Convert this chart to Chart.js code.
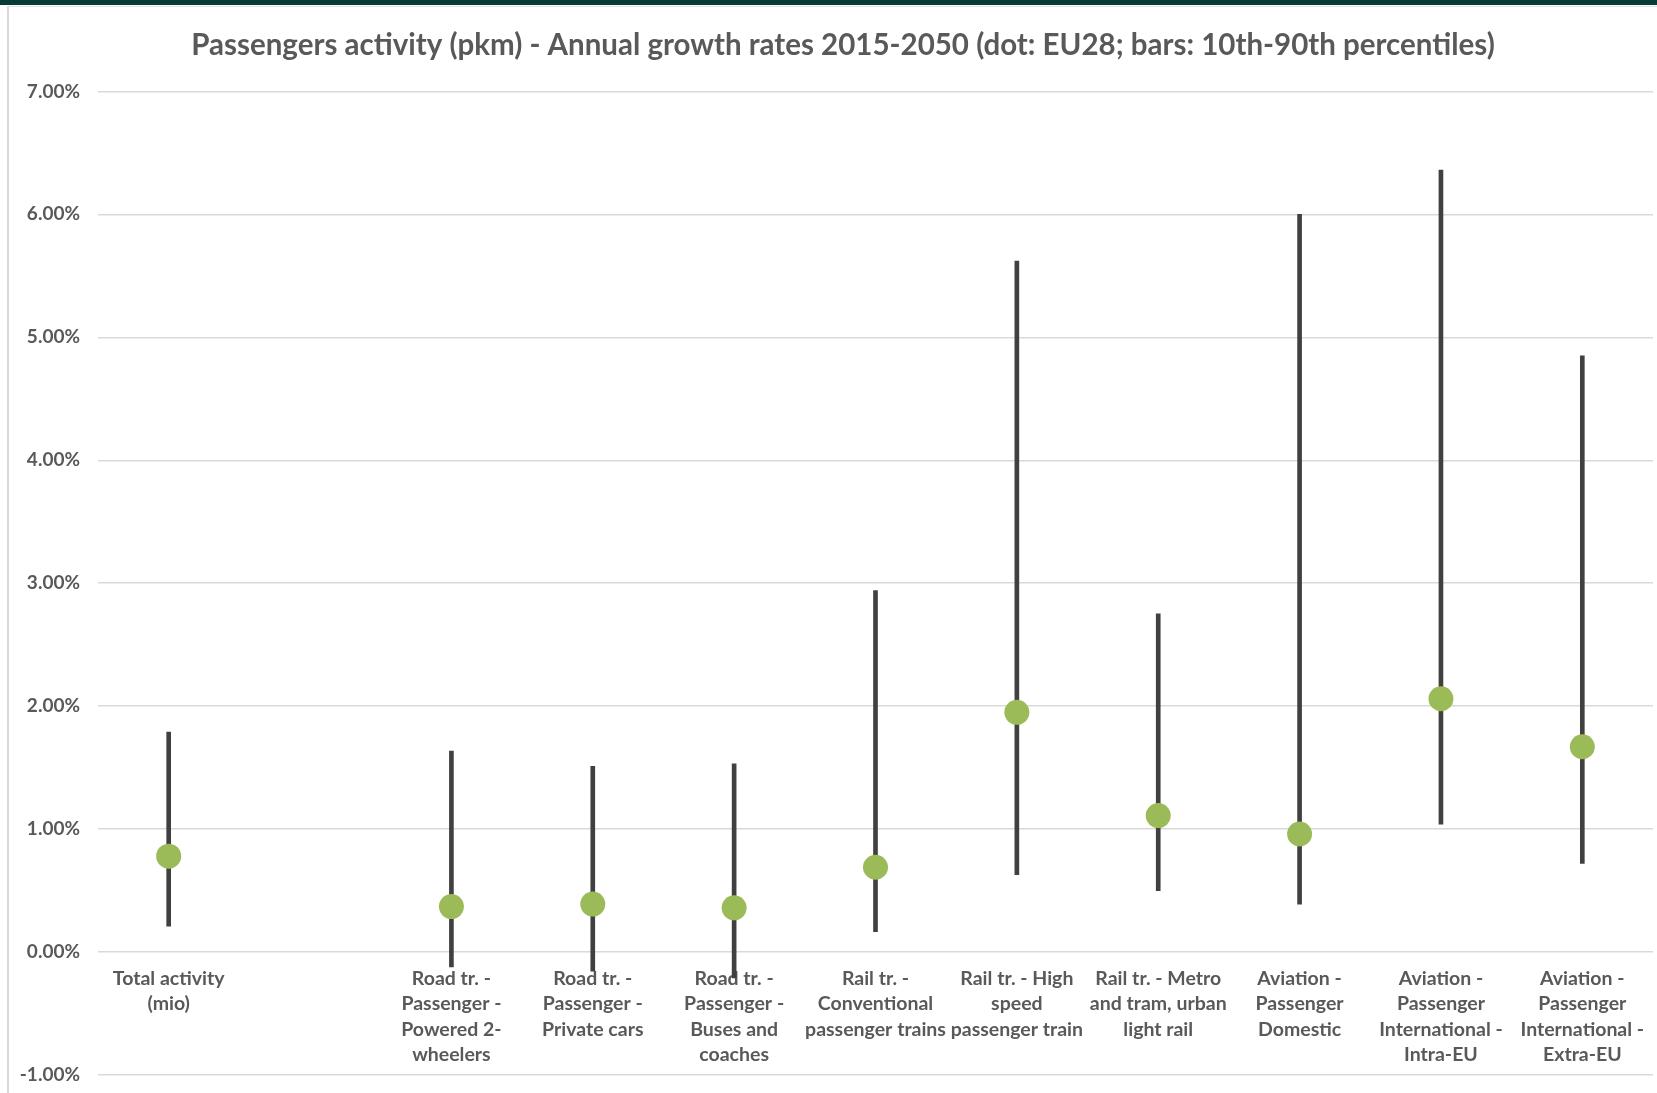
<!DOCTYPE html>
<html>
<head>
<meta charset="utf-8">
<script src="https://cdn.jsdelivr.net/npm/chart.js@4.4.1/dist/chart.umd.min.js"></script>
<style>
  html, body { margin: 0; padding: 0; background: #ffffff; }
  #wrap { position: relative; width: 1657px; height: 1093px; overflow: hidden; }
  #band { position: absolute; left: 0; top: 0; width: 1657px; height: 5px; background: #073b37; }
  #frame { position: absolute; left: 7px; top: 6px; width: 1700px; height: 1200px;
           border-left: 2px solid #d9d9d9; border-top: 1px solid #e3e3e3; }
  canvas { position: absolute; left: 0; top: 0; }
</style>
</head>
<body>
<div id="wrap">
  <div id="frame"></div>
  <div id="band"></div>
  <canvas id="chart" width="1657" height="1093"></canvas>
</div>
<script>
// Transport modes (second slot is an intentionally empty category)
const categories = [
  ["Total activity", "(mio)"],
  "",
  ["Road tr. -", "Passenger -", "Powered 2-", "wheelers"],
  ["Road tr. -", "Passenger -", "Private cars"],
  ["Road tr. -", "Passenger -", "Buses and", "coaches"],
  ["Rail tr. -", "Conventional", "passenger trains"],
  ["Rail tr. - High", "speed", "passenger train"],
  ["Rail tr. - Metro", "and tram, urban", "light rail"],
  ["Aviation -", "Passenger", "Domestic"],
  ["Aviation -", "Passenger", "International -", "Intra-EU"],
  ["Aviation -", "Passenger", "International -", "Extra-EU"]
];

// EU28 annual growth rate, % per year
const eu28 = [0.78, null, 0.37, 0.39, 0.36, 0.69, 1.95, 1.11, 0.96, 2.06, 1.67];

// 10th and 90th percentiles across member states, % per year
const p10 = [0.21, null, -0.12, -0.155, -0.21, 0.165, 0.63, 0.50, 0.39, 1.04, 0.72];
const p90 = [1.79, null, 1.635, 1.51, 1.53, 2.94, 5.62, 2.75, 6.00, 6.36, 4.85];

// Value axis range and step
const yMin = -1;
const yMax = 7;
const yStep = 1;

const TEXT = '#595959';
const FONT = 'Lato, "Open Sans", sans-serif';

const ranges = p10.map((lo, i) => (lo === null ? null : [lo, p90[i]]));

// left padding shifts the centred title; the y axis width makes up the rest of the margin
const PAD_LEFT = 33;
const PLOT_LEFT = 98;

// let the y tick labels spill into the left padding instead of being clipped
const widenYLabelArea = {
  id: 'widenYLabelArea',
  afterLayout(chart) { chart.scales.y.left = 0; }
};

new Chart(document.getElementById('chart'), {
  type: 'bar',
  data: {
    labels: categories,
    datasets: [
      {
        type: 'line',
        label: 'EU28',
        data: eu28,
        showLine: false,
        pointRadius: 12.5,
        pointHoverRadius: 12.5,
        pointBackgroundColor: '#9bbb59',
        pointBorderWidth: 0,
        order: 0
      },
      {
        type: 'bar',
        label: '10th-90th percentiles',
        data: ranges,
        backgroundColor: '#404040',
        borderWidth: 0,
        borderSkipped: false,
        barThickness: 4,
        order: 1
      }
    ]
  },
  plugins: [widenYLabelArea],
  options: {
    responsive: false,
    animation: false,
    devicePixelRatio: 1,
    layout: { autoPadding: false, padding: { left: PAD_LEFT, right: 4, top: 0, bottom: 18 } },
    plugins: {
      legend: { display: false },
      tooltip: { enabled: false },
      title: {
        display: true,
        text: 'Passengers activity (pkm) - Annual growth rates 2015-2050 (dot: EU28; bars: 10th-90th percentiles)',
        color: TEXT,
        font: { family: FONT, size: 29.5, weight: 'bold', lineHeight: 1.2 },
        padding: { top: 28, bottom: 28 }
      }
    },
    scales: {
      x: {
        type: 'category',
        position: { y: 0 },
        offset: true,
        // invisible grid; tick length only spaces the labels below the zero line
        grid: { display: true, drawOnChartArea: false, drawTicks: true,
                tickLength: 14, color: 'rgba(0,0,0,0)', tickColor: 'rgba(0,0,0,0)' },
        border: { display: false },
        ticks: {
          color: TEXT,
          font: { family: FONT, size: 19.5, weight: 'bold', lineHeight: 1.3 },
          padding: 0,
          autoSkip: false,
          maxRotation: 0,
          minRotation: 0
        },
        afterFit: (scale) => { scale.paddingLeft = 0; scale.paddingRight = 0; }
      },
      y: {
        min: yMin,
        max: yMax,
        grid: { color: '#d9d9d9', lineWidth: 1.5, drawTicks: true,
                tickLength: 18, tickColor: 'rgba(0,0,0,0)' },
        border: { display: false },
        ticks: {
          stepSize: yStep,
          color: TEXT,
          padding: 0,
          font: { family: FONT, size: 19, weight: 'bold' },
          callback: (v) => v.toFixed(2) + '%'
        },
        afterFit: (scale) => { scale.width = PLOT_LEFT - PAD_LEFT; }
      }
    }
  }
});
</script>
</body>
</html>
